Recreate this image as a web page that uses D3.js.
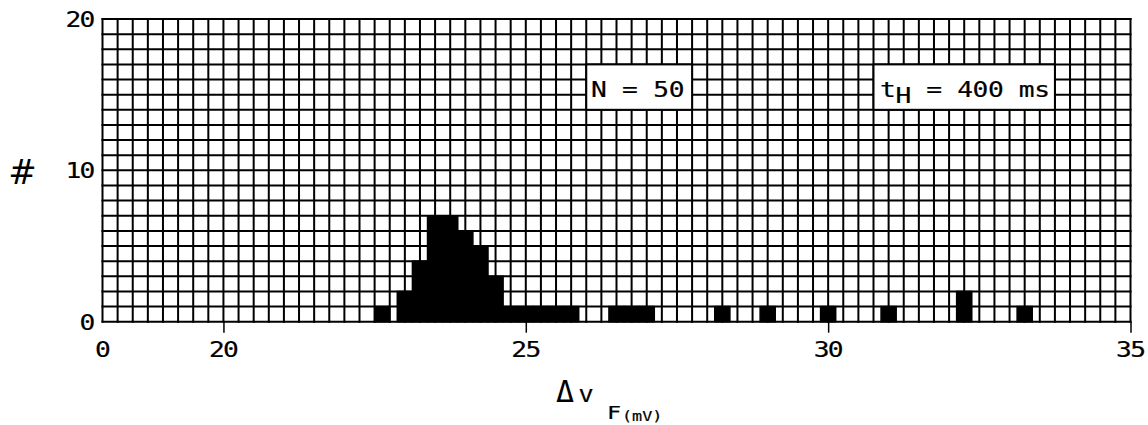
<!DOCTYPE html>
<html>
<head>
<meta charset="utf-8">
<script src="https://cdn.jsdelivr.net/npm/d3@7"></script>
<style>
  body { margin: 0; background: #fff; }
  svg { display: block; }
</style>
</head>
<body>
<svg id="chart" width="1148" height="425"></svg>
<script>
// Histogram of flat-band voltage shifts, 0.25 mV bins (bin centres in mV)
const binCenters = [22.625, 23.0, 23.25, 23.5, 23.75, 24.0, 24.25, 24.5,
                    24.75, 25.0, 25.25, 25.5, 25.75,
                    26.5, 26.75, 27.0, 28.25, 29.0, 30.0, 31.0, 32.25, 33.25];
const binCounts  = [1, 2, 4, 7, 7, 6, 5, 3,
                    1, 1, 1, 1, 1,
                    1, 1, 1, 1, 1, 1, 1, 2, 1];
const binWidth = 0.25;

// Axis ticks (the origin of the broken x axis is labelled 0)
const xTickValues = [18, 20, 25, 30, 35];
const xTickLabels = ["0", "20", "25", "30", "35"];
const yTickValues = [0, 10, 20];
const yTickLabels = ["0", "10", "20"];

const sampleCount = 50;
const holdTimeMs = 400;

const MONO = "'DejaVu Sans Mono', monospace";
const WIDE = 1.25;           // plotter lettering is wider than the screen font
const svg = d3.select("#chart");

const x = d3.scaleLinear().domain([18, 35]).range([102.5, 1130.5]);
const y = d3.scaleLinear().domain([0, 20]).range([321.7, 19]);

// Background grid: one column per bin, one row per count
const vLines = d3.range(0, Math.round((35 - 18) / binWidth) + 1).map(i => 18 + i * binWidth);
const hLines = d3.range(0, 21);

const grid = svg.append("g").attr("stroke", "#000").attr("stroke-width", 2);
grid.append("g").selectAll("line").data(vLines).join("line")
  .attr("x1", d => x(d)).attr("x2", d => x(d))
  .attr("y1", y(0) + 1).attr("y2", y(20) - 1);
grid.append("g").selectAll("line").data(hLines).join("line")
  .attr("x1", x(18) - 1).attr("x2", x(35) + 1)
  .attr("y1", d => y(d)).attr("y2", d => y(d));

// Bars
const bins = binCenters.map((c, i) => ({ c, n: binCounts[i] }));
svg.append("g").selectAll("rect").data(bins).join("rect")
  .attr("x", d => x(d.c - binWidth / 2))
  .attr("width", d => x(d.c + binWidth / 2) - x(d.c - binWidth / 2))
  .attr("y", d => y(d.n))
  .attr("height", d => y(0) - y(d.n))
  .attr("fill", "#000")
  .attr("stroke", "#000")
  .attr("stroke-width", 1.5);

// Shared lettering style
function letter(sel, size, spacing) {
  return sel.attr("font-family", MONO).attr("font-size", size)
    .attr("letter-spacing", spacing)
    .attr("fill", "#000").attr("stroke", "#000").attr("stroke-width", 0.2);
}

// X axis ticks and labels
const xAxis = d3.axisBottom(x)
  .tickValues(xTickValues)
  .tickFormat((d, i) => xTickLabels[i])
  .tickSize(11)
  .tickPadding(9);
const gx = svg.append("g").attr("transform", `translate(0,${y(0)})`).call(xAxis);
gx.select(".domain").remove();
gx.selectAll(".tick line").attr("stroke", "#000").attr("stroke-width", 1.5)
  .filter(d => d === 18).remove();
letter(gx.selectAll(".tick text"), 21, -1.3)
  .attr("transform", `scale(${WIDE},1)`)
  .attr("dx", -0.65)
  .attr("y", 35.5).attr("dy", 0);

// Y axis labels
const yAxis = d3.axisLeft(y)
  .tickValues(yTickValues)
  .tickFormat((d, i) => yTickLabels[i])
  .tickSize(0)
  .tickPadding(7);
const gy = svg.append("g").attr("transform", `translate(${x(18)},0)`).call(yAxis);
gy.select(".domain").remove();
letter(gy.selectAll(".tick text"), 21, -1.3)
  .attr("transform", `scale(${WIDE},1)`)
  .attr("dy", "0.36em");

// Annotation boxes
function box(x0, x1, y0, y1) {
  return svg.append("rect")
    .attr("x", x(x0)).attr("y", y(y1))
    .attr("width", x(x1) - x(x0)).attr("height", y(y0) - y(y1))
    .attr("fill", "#fff").attr("stroke", "#000").attr("stroke-width", 2);
}
box(26.0, 27.75, 14, 17);
box(30.75, 33.75, 14, 17);

letter(svg.append("text"), 21, -0.2)
  .attr("transform", `translate(591,96.5) scale(${WIDE},1)`)
  .text(`N = ${sampleCount}`);

const tH = letter(svg.append("text"), 21, -0.3)
  .attr("transform", `translate(880,96.5) scale(${WIDE},1)`);
tH.append("tspan").text("t");
tH.append("tspan").attr("dy", 6).text("H");
tH.append("tspan").attr("dy", -6).text(` = ${holdTimeMs} ms`);

// Axis titles
svg.append("text")
  .attr("x", 22.5).attr("y", 184)
  .attr("text-anchor", "middle")
  .attr("font-family", "'DejaVu Sans', sans-serif").attr("font-size", 34)
  .attr("fill", "#000")
  .text("#");

svg.append("text")
  .attr("x", 556).attr("y", 402)
  .attr("font-family", MONO).attr("font-size", 30).attr("fill", "#000")
  .text("Δ");
letter(svg.append("text"), 18, 0)
  .attr("transform", `translate(579,402) scale(1.3,1)`).text("V");
letter(svg.append("text"), 18, 0)
  .attr("transform", `translate(607,419) scale(1.3,1)`).text("F");
letter(svg.append("text"), 14, 0)
  .attr("transform", `translate(622,421) scale(1.2,1)`).text("(mV)");
</script>
</body>
</html>
